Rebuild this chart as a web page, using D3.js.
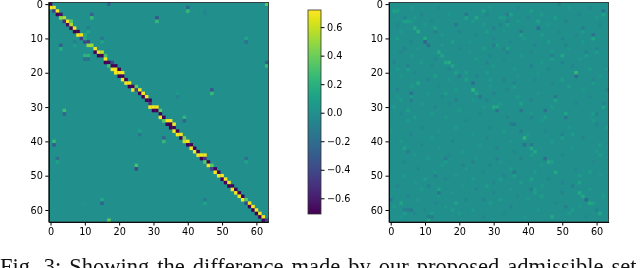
<!DOCTYPE html>
<html lang="en">
<head>
  <meta charset="UTF-8">
  <style>
    html,body { margin:0; padding:0; background:#fff; overflow:hidden; }
    svg { display:block; filter:blur(0.3px); }
    .tick text { font-family:"DejaVu Sans"; font-size:9.7px; fill:#000; }
    .caption { font-family:"Liberation Serif"; font-size:22.5px; fill:#111; word-spacing:2.4px; }
  </style>
  <script src="https://d3js.org/d3.v7.min.js"></script>
</head>
<body>
  <svg id="chart" width="640" height="268"></svg>

  <script>
    const matrixTicks = [0, 10, 20, 30, 40, 50, 60];
    const colorTicks = [-0.6, -0.4, -0.2, 0, 0.2, 0.4, 0.6];
    const colorMin = -0.71, colorMax = 0.72;
    const caption = "Fig. 3: Showing the difference made by our proposed admissible set";

    const diagCells = [
      [0,0,-.7],[1,0,.7],[1,1,.7],[2,1,-.45],[2,2,.7],[3,2,-.7],[3,3,-.65],[4,3,.5],[4,4,.55],
      [5,4,-.5],[5,5,.7],[5,6,.35],[6,5,-.65],[6,6,.55],[7,6,-.7],[7,7,.7],[8,7,-.7],[8,8,-.7],
      [9,8,.7],[9,9,.7],[9,10,.2],[10,9,-.45],[11,10,-.4],[11,11,-.45],[12,11,.5],[12,12,.5],
      [13,13,.7],[14,13,-.7],[14,14,.7],[14,15,.6],[15,14,-.7],[15,15,-.7],[15,16,.3],[16,16,.7],
      [17,16,-.7],[17,17,-.7],[17,18,-.4],[18,17,.3],[18,18,-.7],[18,19,-.7],[19,18,.7],[19,19,.7],
      [19,20,-.7],[20,19,.7],[20,20,.7],[20,21,.7],[21,20,-.7],[21,21,-.7],[22,21,.7],[22,22,-.7],
      [23,22,.7],[23,23,.7],[24,23,-.7],[24,24,-.7],[24,25,.35],[25,24,.7],[25,25,-.4],[25,26,.7],
      [26,26,-.7],[26,27,.7],[27,27,-.7],[27,28,.7],[28,28,-.7],[28,29,-.7],
      [29,29,-.5],[30,29,.7],[30,30,.7],[30,31,.7],[31,30,-.7],[31,31,-.7],[31,32,.35],[32,32,-.7],
      [33,32,.7],[33,33,-.7],[34,33,.35],[34,34,.7],[34,35,.7],[35,34,-.7],[35,35,-.7],[35,36,.7],
      [36,35,-.7],[36,36,-.7],[37,36,.7],[37,37,-.7],[38,37,.7],[38,38,.7],[39,38,-.7],[39,39,.45],
      [40,39,.6],[40,40,.7],[41,40,-.7],[41,41,-.7],[42,41,.7],[42,42,-.7],[43,42,.7],
      [43,43,-.7],[44,43,.7],[44,44,.7],[44,45,.7],[45,44,-.7],[45,45,-.5],[46,45,.35],[46,46,-.7],
      [47,46,.7],[47,47,.35],[48,47,-.45],[48,48,-.7],[49,48,.7],[49,49,-.7],[50,49,.7],[50,50,.7],
      [51,50,-.7],[51,51,.7],[52,51,-.7],[52,52,.7],[53,52,-.7],[53,53,-.7],
      [54,53,.7],[54,54,-.7],[55,54,.7],[55,55,-.7],[56,55,.7],[56,56,-.7],[57,56,.7],[57,57,.35],
      [58,57,-.4],[58,58,.7],[59,58,-.7],[59,59,.7],[60,59,-.7],[60,60,.7],[61,60,-.7],[61,61,.7],
      [62,61,-.7],[62,62,.7],[63,62,-.7],[63,63,-.45]
    ];
    const spotCells = [
      [0,17,-.25],[3,12,-.28],[4,12,.25],[7,11,-.1],[8,11,.1],[9,10,.15],[10,10,.15],[11,7,-.1],
      [12,7,.08],[10,15,-.14],[11,15,.12],[12,3,-.28],[13,3,.18],[15,10,.22],[15,11,.22],[16,10,-.2],
      [16,11,-.2],[31,4,.28],[32,4,-.25],[1,40,-.25],[2,40,.25],[2,45,-.05],[3,45,-.04],[4,31,-.35],
      [5,31,.25],[0,63,.35],[10,57,.12],[11,57,-.18],[17,63,-.28],[18,63,.25],[26,37,.06],[27,37,-.07],
      [25,47,-.35],[26,47,.25],[33,39,.22],[34,39,-.25],[40,1,.25],[41,1,-.3],[45,2,-.18],[46,2,.1],
      [37,26,.1],[38,26,-.14],[47,25,.3],[48,25,-.4],[58,10,.04],[57,15,.15],[58,15,-.25],[63,17,.38],
      [39,33,-.26],[40,33,.24],[45,57,-.18],[46,57,.12],[57,45,-.14],[58,45,.1]
    ];
    // right matrix, only the cells that stand out from the background
    const noiseCells = [
      [2,1,.1],[2,2,.08],[5,4,.11],[5,5,.11],[5,6,.07],[7,7,.15],[8,8,.18],[8,13,-.1],[7,13,.1],
      [10,10,.15],[11,10,-.25],[12,11,-.18],[14,14,.15],[15,15,.12],[17,17,.18],[17,16,.14],[18,18,.12],[20,19,.09],
      [20,22,.08],[21,20,-.1],[22,22,.11],[23,24,-.18],[25,24,.22],[26,25,.12],[27,26,-.14],[28,28,-.07],
      [30,30,.15],[30,31,.15],[31,31,-.15],[23,8,.13],[4,4,-.07],[3,22,-.14],[4,22,.1],[4,25,.13],[2,27,.1],
      [6,19,-.13],[8,28,.08],[7,30,-.08],[11,18,.08],[12,31,.08],[12,30,-.1],[26,6,-.17],[27,6,.07],
      [28,6,-.1],[27,2,.05],[17,1,-.06],[19,5,.08],[18,5,-.08],[21,13,.08],[26,16,.07],[28,19,-.08],
      [31,5,.08],[30,1,.07],[33,7,.07],[13,4,-.07],[4,32,.08],[6,32,-.08],[4,33,.07],[13,33,-.07],[13,34,.1],
      [22,33,-.08],[22,29,.07],[3,34,-.1],[3,35,.1],[5,34,-.08],[6,34,.08],[2,41,.08],[5,43,.1],
      [7,43,-.2],[8,38,-.14],[9,38,.1],[4,48,.07],[0,49,-.07],[7,56,-.1],[8,56,.07],[9,59,-.17],[10,59,.14],
      [2,62,-.17],[3,62,.1],[4,60,.05],[11,46,.08],[12,51,-.07],[14,34,-.08],[14,41,-.05],
      [15,50,.14],[15,47,-.1],[16,47,.07],[14,57,-.08],[15,57,.07],[13,60,-.08],[14,60,.07],[20,54,.25],
      [21,54,-.2],[18,41,-.07],[17,50,-.07],[22,50,.08],[23,36,-.07],[24,36,.07],[27,48,-.14],[28,48,.1],
      [29,38,.1],[31,38,-.14],[31,45,-.17],[33,45,.08],[32,51,.14],[33,51,-.14],[29,62,-.08],[30,62,.1],
      [25,63,-.07],[19,63,.05],[32,59,.07],[32,60,-.07],[23,59,.07],[22,59,-.05],[23,47,-.05],[33,41,-.07],
      [43,5,-.1],[42,4,.1],[37,0,.05],[57,0,-.14],[58,3,.13],[60,4,-.1],[60,6,-.13],[61,12,.08],[62,11,-.1],
      [62,12,-.1],[63,11,.14],[54,14,.1],[55,14,-.14],[50,13,-.1],[45,16,-.1],[46,16,.07],[51,10,.08],
      [53,11,-.07],[46,24,-.07],[47,21,-.07],[58,19,.1],[60,18,.07],[53,28,.07],[57,27,-.07],[57,32,.08],
      [45,31,-.07],[60,5,-.1],[61,4,.08],[51,32,.07],[39,39,.22],[41,39,-.18],[41,41,-.14],[42,41,.15],
      [43,42,.15],[45,45,-.18],[46,46,.15],[46,47,.09],[49,48,.15],[49,36,-.14],[50,36,.08],[51,41,.1],
      [54,41,-.1],[55,42,.08],[53,53,-.1],[50,55,.07],[52,55,.1],[55,55,.15],[56,56,.15],[57,57,-.22],
      [58,58,.15],[58,59,.09],[60,60,-.07],[61,61,.14],[62,47,.14],[59,51,-.1],[60,53,.07],[38,50,-.08],
      [39,50,.07],[38,53,.07],[41,61,.08],[44,61,.07],[35,60,-.07],[36,63,.07],[35,35,-.1],[35,36,-.14],
      [37,38,-.1],[56,44,.07],[55,50,-.07],[54,42,.07],[49,58,.07]
    ];
    // faint mottling of the right matrix, estimated by eye
    const faintCells = [
      [1,6,.045],[1,14,-.045],[1,29,.045],[1,37,-.045],[1,52,.045],[1,58,-.045],[3,9,-.06],[3,17,.045],[3,28,-.045],[3,44,.06],
      [3,55,-.045],[4,7,.06],[4,40,-.045],[5,12,-.045],[5,24,.06],[5,37,.045],[5,51,-.06],[6,2,-.045],[6,10,.045],[6,27,.06],
      [6,46,.045],[6,61,-.045],[8,3,.045],[8,20,-.06],[8,33,.045],[8,49,-.045],[9,15,.045],[9,25,-.045],[9,44,.06],[9,54,-.045],
      [10,2,.06],[10,30,-.045],[10,39,.045],[10,50,-.06],[11,6,-.045],[11,23,.045],[11,35,-.045],[11,56,.06],[12,15,.045],[12,42,-.06],
      [13,8,.045],[13,20,-.045],[13,27,.06],[13,52,.045],[14,3,-.06],[14,23,.045],[14,47,.06],[15,6,.045],[15,29,-.045],[15,38,.06],
      [16,13,-.045],[16,25,.06],[16,33,-.045],[16,55,.045],[17,9,.06],[17,28,-.06],[17,44,.045],[18,12,-.045],[18,30,.045],[18,53,-.06],
      [19,2,.06],[19,17,-.045],[19,36,.045],[19,46,-.045],[19,58,.06],[20,7,-.045],[20,28,.06],[20,43,.045],[21,3,.045],[21,25,-.06],
      [21,37,.045],[21,61,.045],[22,11,-.06],[22,17,.045],[22,42,-.045],[24,6,.06],[24,14,-.045],[24,29,.045],[24,52,.06],[25,2,-.045],
      [25,19,.06],[25,34,-.045],[25,56,.045],[26,11,.045],[26,30,-.06],[26,43,.045],[27,15,-.045],[27,37,.06],[27,58,-.045],[28,3,.06],
      [28,24,.045],[28,41,-.06],[29,9,.045],[29,17,-.045],[29,32,.06],[29,54,-.045],[30,13,-.06],[30,27,.045],[30,47,.06],[31,20,.045],
      [32,3,-.045],[32,12,.06],[32,26,-.045],[32,41,.045],[33,16,.045],[33,34,-.06],[34,5,.06],[34,22,-.045],[34,44,.045],[34,59,.06],
      [36,9,-.045],[36,19,.06],[36,29,-.045],[36,52,.045],[37,14,.045],[37,33,.06],[37,45,-.045],[38,6,-.06],[38,24,.045],[38,40,.045],
      [39,12,.06],[39,28,-.045],[39,56,-.06],[40,3,.045],[40,18,-.06],[40,35,.045],[40,47,.06],[41,9,-.045],[41,26,.045],[42,14,.045],
      [42,31,-.06],[42,53,.045],[43,21,.06],[43,36,-.045],[43,60,.045],[44,7,.045],[44,17,-.045],[44,41,.06],[44,50,-.045],[45,11,.06],
      [45,25,.045],[45,38,-.06],[46,4,-.045],[46,32,.045],[46,59,-.045],[47,15,.06],[47,29,-.06],[47,44,.045],[48,8,-.045],[48,22,.045],
      [48,35,.06],[48,54,-.045],[49,13,.045],[49,27,-.045],[49,42,.06],[50,4,.06],[50,19,.045],[50,33,-.06],[50,61,.045],[51,16,-.045],
      [51,24,.06],[51,46,-.045],[52,7,.045],[52,30,-.045],[52,38,.06],[52,50,-.06],[53,2,-.045],[53,21,.045],[53,44,.045],[54,9,.06],
      [54,25,-.06],[54,35,.045],[54,58,.045],[55,18,.045],[55,30,-.045],[56,5,-.06],[56,14,.045],[56,37,-.045],[56,62,.06],[57,8,.045],
      [57,22,-.06],[57,40,.045],[58,13,-.045],[58,29,.06],[58,48,-.045],[59,1,.06],[59,16,.045],[59,35,-.06],[59,55,.045],[60,10,-.045],
      [60,24,.06],[60,43,.045],[61,7,-.045],[61,20,.045],[61,33,-.045],[61,52,.06],[62,3,.045],[62,27,-.06],[62,39,.045],[62,57,-.045]
    ];

    const svg = d3.select('#chart');
    const color = d3.scaleSequential(d3.interpolateViridis).domain([colorMin, colorMax]);

    function drawMatrix(left, top, cells, baseValue) {
      const x = d3.scaleLinear().domain([-0.5, 63.5]).range([left, left + 219.6]);
      const y = d3.scaleLinear().domain([-0.5, 63.5]).range([top, top + 219.6]);
      const g = svg.append('g');
      const size = x(1) - x(0);

      g.append('rect')
        .attr('x', x(-0.5)).attr('y', y(-0.5))
        .attr('width', x(63.5) - x(-0.5)).attr('height', y(63.5) - y(-0.5))
        .attr('fill', color(baseValue));

      g.selectAll('.cell')
        .data(cells)
        .enter().append('rect')
        .attr('class', 'cell')
        .attr('x', d => x(d[1] - 0.5))
        .attr('y', d => y(d[0] - 0.5))
        .attr('width', size + 0.1)
        .attr('height', size + 0.1)
        .attr('fill', d => color(d[2]));

      g.append('g')
        .attr('transform', `translate(0, ${y(63.5)})`)
        .call(d3.axisBottom(x).tickValues(matrixTicks).tickFormat(d3.format('d')).tickSize(3.5).tickPadding(2.5).tickSizeOuter(0));
      g.append('g')
        .attr('transform', `translate(${x(-0.5)}, 0)`)
        .call(d3.axisLeft(y).tickValues(matrixTicks).tickFormat(d3.format('d')).tickSize(3.5).tickPadding(2.5).tickSizeOuter(0));

      // frame around the image
      g.append('rect')
        .attr('x', x(-0.5)).attr('y', y(-0.5))
        .attr('width', x(63.5) - x(-0.5)).attr('height', y(63.5) - y(-0.5))
        .attr('fill', 'none').attr('stroke', '#222').attr('stroke-width', 0.8);
    }

    drawMatrix(48.8, 2.4, diagCells.concat(spotCells), 0);
    drawMatrix(389, 2.4, faintCells.concat(noiseCells), 0);

    // colorbar, a gradient so the blur does not show seams between steps
    const barY = d3.scaleLinear().domain([colorMin, colorMax]).range([214, 10]);
    const gradient = svg.append('defs').append('linearGradient')
      .attr('id', 'viridis-bar')
      .attr('x1', 0).attr('y1', 1).attr('x2', 0).attr('y2', 0);
    gradient.selectAll('stop')
      .data(d3.range(0, 1.001, 0.05))
      .enter().append('stop')
      .attr('offset', d => d)
      .attr('stop-color', d => d3.interpolateViridis(d));
    svg.append('rect')
      .attr('x', 308).attr('y', 10).attr('width', 13).attr('height', 204)
      .attr('fill', 'url(#viridis-bar)')
      .attr('stroke', '#333').attr('stroke-width', 0.8);
    svg.append('g')
      .attr('transform', 'translate(321, 0)')
      .call(d3.axisRight(barY).tickValues(colorTicks).tickFormat(d3.format('.1f')).tickSize(3.5).tickPadding(2.5).tickSizeOuter(0))
      .select('.domain').remove();

    svg.append('text')
      .attr('class', 'caption')
      .attr('x', 0)
      .attr('y', 274)
      .text(caption);
  </script>
</body>
</html>
